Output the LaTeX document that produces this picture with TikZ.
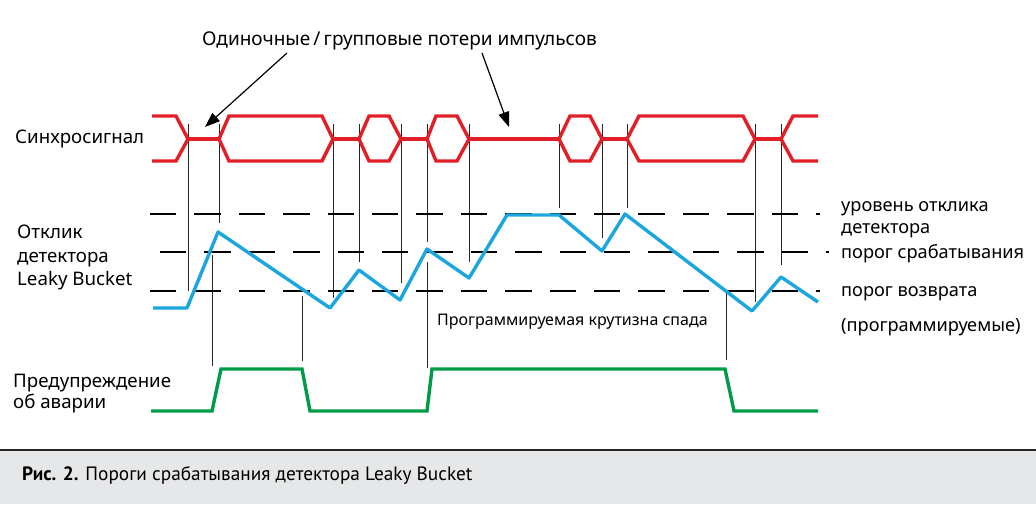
\documentclass[tikz,border=0pt]{standalone}
\usepackage{fontspec}
\setmainfont{Noto Sans}
\newfontfamily\capfont{PT Sans}
\usetikzlibrary{arrows.meta}
\definecolor{sigred}{RGB}{226,30,38}
\definecolor{sigblue}{RGB}{27,166,224}
\definecolor{siggreen}{RGB}{0,155,72}
\definecolor{capgray}{RGB}{230,231,232}
\begin{document}
\begin{tikzpicture}[x=1pt,y=-1pt,
  lbl/.style={anchor=base west, inner sep=0pt, font=\fontsize{18.7}{22}\selectfont},
  rlbl/.style={anchor=base west, inner sep=0pt, font=\fontsize{18.2}{22}\selectfont},
  toplbl/.style={anchor=base west, inner sep=0pt, font=\fontsize{19}{22}\selectfont},
  midlbl/.style={anchor=base west, inner sep=0pt, font=\fontsize{16}{19}\selectfont},
  caplbl/.style={anchor=base west, inner sep=0pt, font=\capfont\fontsize{19.3}{22}\selectfont},
  sync/.style={draw=sigred, line width=3.4pt},
  resp/.style={draw=sigblue, line width=3.4pt, line join=round},
  alarm/.style={draw=siggreen, line width=3.4pt},
  tick/.style={draw=black!85, line width=1pt},
  level/.style={draw=black, line width=1.6pt, dash pattern=on 26.4pt off 18pt},
  pointer/.style={draw=black, line width=1.2pt, -{Triangle[length=15pt,width=11pt]}},
]
\useasboundingbox (0,0) rectangle (1036,504);

% caption band
\fill[capgray] (0,450) rectangle (1036,504);
\draw[black!85, line width=1.5pt] (0,450) -- (1036,450);
\node[caplbl] (caption) at (22,480) {\textbf{Рис. 2.} Пороги срабатывания детектора Leaky Bucket};

% labels
\node[toplbl] (loss) at (202,45) {Одиночные\,/\,групповые потери импульсов};
\node[lbl] (sync) at (15,143) {Синхросигнал};
\node[lbl] (resp1) at (17,238) {Отклик};
\node[lbl] (resp2) at (17,262) {детектора};
\node[lbl] (resp3) at (17,285) {Leaky Bucket};
\node[lbl] (warn1) at (13,387) {Предупреждение};
\node[lbl] (warn2) at (13,408) {об аварии};
\node[rlbl] (lev1) at (841,211) {уровень отклика};
\node[rlbl] (lev2) at (841,233) {детектора};
\node[rlbl] (thr1) at (841,258) {порог срабатывания};
\node[rlbl] (thr2) at (841,296) {порог возврата};
\node[rlbl] (prog) at (841,331) {(программируемые)};
\node[midlbl] (slope) at (437,325) {Программируемая крутизна спада};

% tick lines at sync edges
\foreach \x/\b in {188/291, 219/223, 333/298, 359/262, 401/283, 427/242, 469/262,
                   559/208, 602/238, 627/208, 755/302, 781/265}
  \draw[tick] (\x,124) -- (\x,\b);
% tick lines down to alarm
\foreach \x/\a/\b in {212/255/366, 302/296/361, 427/262/368, 726/293/360}
  \draw[tick] (\x,\a) -- (\x,\b);

% threshold levels
\draw[level] (150,214) -- (820,214);
\draw[level] (160,252) -- (829,252);
\draw[level] (150,291) -- (820,291);

% sync signal
\draw[sync] (152,116) -- (176,116) -- (188,139) -- (176,161) -- (152,161);
\draw[sync] (188,139) -- (219,139);
\draw[sync] (219,139) -- (229,116) -- (322,116) -- (333,139) -- (322,161) -- (229,161) -- cycle;
\draw[sync] (333,139) -- (359,139);
\draw[sync] (359,139) -- (369,116) -- (389,116) -- (401,139) -- (389,161) -- (369,161) -- cycle;
\draw[sync] (401,139) -- (427,139);
\draw[sync] (427,139) -- (436,116) -- (457,116) -- (469,139) -- (457,161) -- (436,161) -- cycle;
\draw[sync] (469,139) -- (559,139);
\draw[sync] (559,139) -- (570,116) -- (590,116) -- (602,139) -- (590,161) -- (570,161) -- cycle;
\draw[sync] (602,139) -- (627,139);
\draw[sync] (627,139) -- (639,116) -- (743,116) -- (755,139) -- (743,161) -- (639,161) -- cycle;
\draw[sync] (755,139) -- (781,139);
\draw[sync] (818,116) -- (793,116) -- (781,139) -- (793,161) -- (818,161);

% detector response
\draw[resp] (153,308) -- (187,308) -- (218,232) -- (330,308) -- (359,270) -- (400,300)
  -- (427,249) -- (469,278) -- (507,215) -- (559,215) -- (602,251) -- (625,214)
  -- (752,311) -- (781,277) -- (818,302);

% alarm
\draw[alarm] (151,411) -- (212,411) -- (221,369) -- (302,369) -- (310,411) -- (427,411)
  -- (432,369) -- (725,369) -- (734,411) -- (818,411);

% pointers
\coordinate (p1s) at (287,53);
\coordinate (p1e) at (205,127);
\coordinate (p2s) at (482,53);
\coordinate (p2e) at (509,127);
\draw[pointer] (p1s) -- (p1e);
\draw[pointer] (p2s) -- (p2e);
\end{tikzpicture}
\end{document}
